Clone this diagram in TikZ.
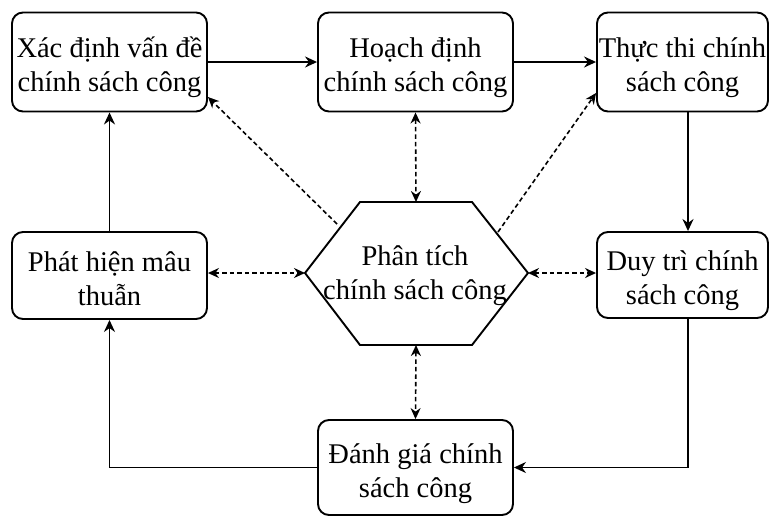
\documentclass[tikz,border=0pt]{standalone}
\usepackage{fontspec}
\setmainfont{Liberation Serif}
\usetikzlibrary{arrows.meta}

\tikzset{
  txt/.style={align=center, inner sep=0pt, text height=63pt, text depth=4pt,
    font=\fontsize{28.5}{34}\selectfont},
  box/.style={txt, draw, line width=1.9pt, rounded corners=11pt},
  flow/.style={-{Stealth[length=12pt,width=11pt]}, line width=1.8pt},
  link/.style={{Stealth[length=11pt,width=10pt]}-{Stealth[length=11pt,width=10pt]}, line width=1.6pt,
    dash pattern=on 4.5pt off 3pt},
  linkone/.style={-{Stealth[length=11pt,width=10pt]}, line width=1.6pt, dash pattern=on 4.5pt off 3pt}
}

\begin{document}
\begin{tikzpicture}[x=1pt,y=-1pt]
\useasboundingbox (0,0) rectangle (770,520);

\node[box, minimum width=195pt, minimum height=99pt] (xd) at (109.5,62) {Xác định vấn đề\\chính sách công};
\node[box, minimum width=195pt, minimum height=99pt] (hd) at (415.5,62) {Hoạch định\\chính sách công};
\node[box, minimum width=171pt, minimum height=99pt] (tt) at (682.5,62) {Thực thi chính\\sách công};
\node[box, minimum width=195pt, minimum height=87pt] (ph) at (109.5,275.5) {Phát hiện mâu\\thuẫn};
\node[box, minimum width=171pt, minimum height=86pt] (dt) at (682.5,275) {Duy trì chính\\sách công};
\node[box, minimum width=195pt, minimum height=95pt] (dg) at (415.5,467.5) {Đánh giá chính\\sách công};

% hexagon in the middle
\node[txt] (pt) at (415,269.5) {Phân tích\\chính sách công};
\draw[line width=1.9pt] (305,273) coordinate (hW) -- (360,202) -- (416,202) coordinate (hN) -- (472,202)
  -- (528,273) coordinate (hE) -- (472,345) -- (416,345) coordinate (hS) -- (360,345) -- cycle;
\coordinate (hL) at (337,224);
\coordinate (hR) at (498,232);

\draw[flow] (xd.east) -- (hd.west);
\draw[flow] (hd.east) -- (tt.west);
\draw[flow] ([xshift=5.5pt]tt.south) -- ([xshift=5.5pt]dt.north);
\draw[flow] ([xshift=5.5pt]dt.south) |- (dg.east);
\draw[flow] (dg.west) -| (ph.south);
\draw[flow] (ph.north) -- (xd.south);

\draw[link] (hW -| ph.east) -- (hW);
\draw[link] (hE) -- (hE -| dt.west);
\draw[link] (hd.south) -- (hN);
\draw[link] (hS) -- (dg.north);
\draw[linkone] (hL) -- ([yshift=-35pt]xd.east);
\draw[linkone] (hR) -- ([yshift=-31pt]tt.west);
\end{tikzpicture}
\end{document}
